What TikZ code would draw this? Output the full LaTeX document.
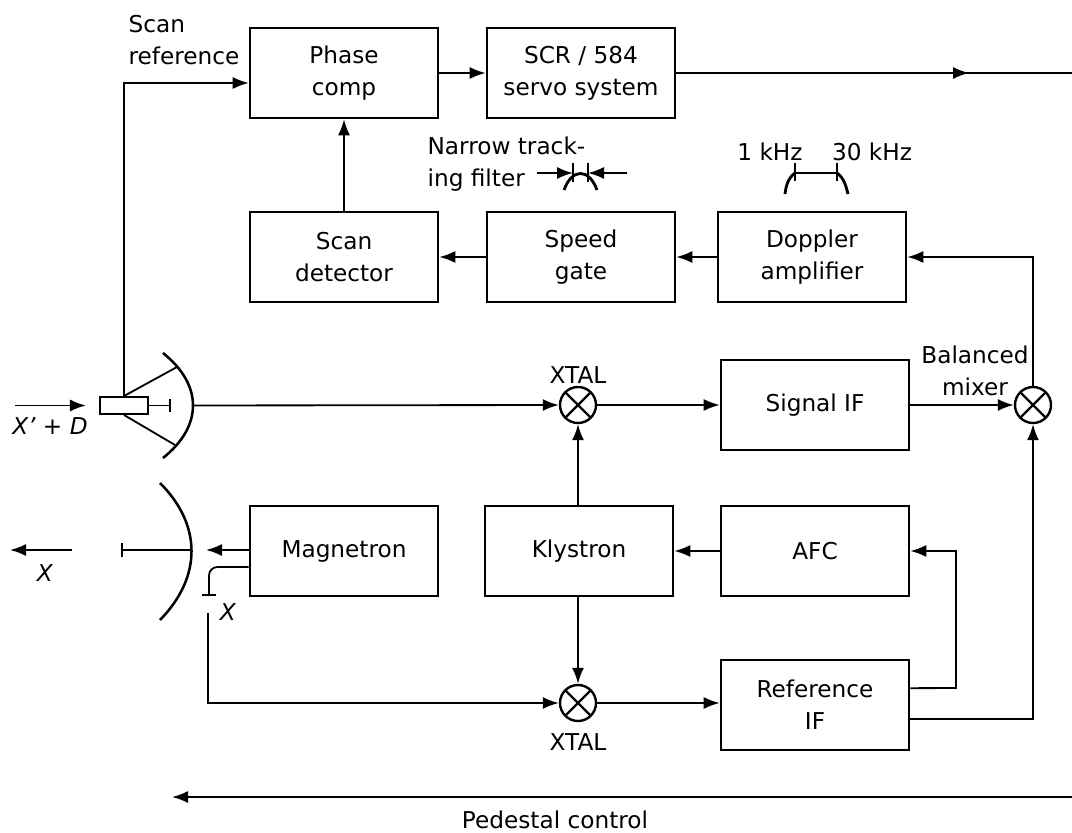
\documentclass[tikz,border=0pt]{standalone}
\usepackage{fontspec}
\setmainfont{DejaVu Sans}
\usetikzlibrary{arrows.meta,decorations.markings}

\begin{document}
\begin{tikzpicture}[x=0.025cm,y=-0.025cm,
  font=\fontsize{16.5}{22.5}\selectfont,
  line width=1.3pt,
  box/.style={draw,line width=1.8pt,minimum width=4.7cm,minimum height=2.25cm,inner sep=0pt,align=center},
  mixer/.style={draw,circle,line width=1.7pt,minimum size=0.9cm,inner sep=0pt,
    path picture={\draw[line width=1.6pt] (path picture bounding box.center) +(45:0.45cm) -- +(225:0.45cm) +(135:0.45cm) -- +(315:0.45cm);}},
  arr/.style={-{Latex[length=4mm,width=3mm]}},
  midarr/.style={postaction={decorate},decoration={markings,mark=at position #1 with {\arrow{Latex[length=4mm,width=3mm]}}}}
]
\useasboundingbox (0,0) rectangle (1072,833);

% blocks
\node[box] (phase) at (344,73) {Phase\\comp};
\node[box] (servo) at (581,73) {SCR / 584\\servo system};
\node[box] (scandet) at (344,257) {Scan\\detector};
\node[box] (speed) at (581,257) {Speed\\gate};
\node[box] (doppler) at (812,257) {Doppler\\amplifier};
\node[box] (sigif) at (815,405) {Signal IF};
\node[box] (magnetron) at (344,551) {Magnetron};
\node[box] (klystron) at (579,551) {Klystron};
\node[box] (afc) at (815,551) {AFC};
\node[box] (refif) at (815,705) {Reference\\IF};

% mixers
\node[mixer] (xtalA) at (578,405) {};
\node[mixer] (xtalB) at (578,703) {};
\node[mixer] (balmix) at (1033,405) {};

% labels
\node[anchor=west,align=left] (scanref) at (123,40) {Scan\\reference};
\node (xtalAlbl) at (578,375) {XTAL};
\node (xtalBlbl) at (578,742) {XTAL};
\node[align=center] (ballbl) at (975,371) {Balanced\\mixer};
\node[anchor=west,align=left] (narrowlbl) at (422,164) {Narrow track-\\ing filter};
\node (lowlbl) at (770,152) {1 kHz};
\node (highlbl) at (872,152) {30 kHz};
\node (pedlbl) at (555,820) {Pedestal control};
\node (rxlbl) at (50,426) {\textit{X' + D}};
\node (txlbl) at (45,573) {\textit{X}};
\node (samplbl) at (228,612) {\textit{X}};

% receiving antenna
\node[draw,line width=1.5pt,minimum width=1.2cm,minimum height=0.42cm,inner sep=0pt] (feed) at (124,405.5) {};
\coordinate (rxdish) at (193,405.5);
\draw[line width=1.8pt] (163,353) .. controls (203,385) and (203,426) .. (163,458);
\draw (feed.east) -- (170,405.5);
\draw[line width=1.6pt] (170,399) -- (170,412);
\draw (feed.north) -- (177,367);
\draw (feed.south) -- (175,445);
\coordinate (rxin) at (15,405.5);
\coordinate (rxtip) at (86,405.5);
\draw[arr] (rxin) -- (rxtip);

% transmitting antenna
\draw[line width=1.8pt] (160,483) .. controls (202,525) and (202,577) .. (160,620);
\draw[line width=1.6pt] (122,543) -- (122,557);
\draw (122,550) -- (191,550);
\coordinate (txa) at (72,550);
\coordinate (txb) at (10,550);
\draw[arr] (txa) -- (txb);
\coordinate (txdish) at (206,550);
\draw[arr] (magnetron.west |- 0,550) -- (txdish);

% magnetron sample
\draw[rounded corners=6] ([yshift=-0.4cm]magnetron.west) -| (209,595);
\draw[line width=1.6pt] (202,595) -- (216,595);
\coordinate (pickup) at (208,613);
\draw[arr] (pickup) |- (xtalB.west);

% signal paths
\draw[arr] (feed.north) |- ([yshift=-0.25cm]phase.west);
\draw[arr] (phase.east) -- (servo.west);
\coordinate (servoout) at (1072,73);
\draw[midarr=0.74] (servo.east) -- (servoout);
\draw[arr] (scandet.north) -- (phase.south);
\draw[arr] (speed.west) -- (scandet.east);
\draw[arr] (doppler.west) -- (speed.east);
\draw[arr] (balmix.north) |- (doppler.east);
\draw[arr] (rxdish) -- (xtalA.west);
\draw[arr] (xtalA.east) -- (sigif.west);
\draw[arr] (sigif.east) -- (balmix.west);
\draw[arr] (klystron.north -| xtalA) -- (xtalA.south);
\draw[arr] (afc.west) -- (klystron.east);
\draw[arr] (klystron.south -| xtalB) -- (xtalB.north);
\draw[arr] (xtalB.east) -- (refif.west |- xtalB);
\draw[arr] ([yshift=0.42cm]refif.east) -- (956,688) |- (afc.east);
\draw[arr] ([yshift=-0.35cm]refif.east) -| (balmix.south);

% filter marks
\draw[arr] (537,173) -- (573,173);
\draw[arr] (627,173) -- (588,173);
\draw (573,163) -- (573,182);
\draw (588,163) -- (588,182);
\draw[line width=2pt] (564,190) .. controls (572,168) and (589,168) .. (597,190);
\draw (795,173) -- (837,173);
\draw (795,163) -- (795,181);
\draw (837,163) -- (837,181);
\draw[line width=2pt] (795,173) .. controls (788,178) and (786,186) .. (785,194);
\draw[line width=2pt] (837,173) .. controls (844,178) and (846,186) .. (848,194);

% pedestal control
\coordinate (pedR) at (1072,797);
\coordinate (pedL) at (172,797);
\draw[arr] (pedR) -- (pedL);
\end{tikzpicture}
\end{document}
